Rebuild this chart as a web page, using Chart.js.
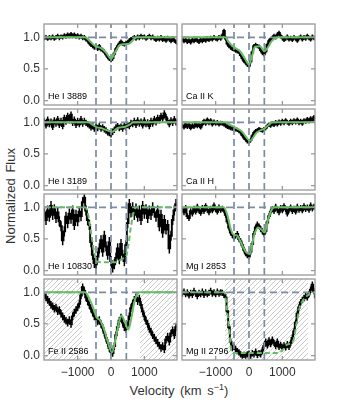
<!DOCTYPE html>
<html lang="en">
<head>
  <meta charset="UTF-8">
  <title>Velocity profiles</title>
  <script src="https://cdn.jsdelivr.net/npm/chart.js"></script>
  <style>
    body { margin: 0; background: #fff; width: 338px; height: 405px; position: relative; overflow: hidden; font-family: "Liberation Sans", Arial, sans-serif; color: #333; }
    canvas { position: absolute; }
    .title { position: absolute; font-size: 13px; white-space: nowrap; word-spacing: 2px; }
  </style>
</head>
<body>
  <div class="title" style="left:10px;top:196px;transform:translate(-50%,-50%) rotate(-90deg)">Normalized Flux</div>
  <div class="title" style="left:179px;top:390px;transform:translate(-50%,-50%)">Velocity (km s<sup style="font-size:9px">&minus;1</sup>)</div>
  <script>
    // velocity grid (km/s) shared by all observed spectra
    const velocity = [
      -2000,-1950,-1900,-1850,-1800,-1750,-1700,-1650,-1600,-1550,
      -1500,-1450,-1400,-1350,-1300,-1250,-1200,-1150,-1100,-1050,
      -1000,-950,-900,-850,-800,-750,-700,-650,-600,-550,
      -500,-450,-400,-350,-300,-250,-200,-150,-100,-50,
      0,50,100,150,200,250,300,350,400,450,
      500,550,600,650,700,750,800,850,900,950,
      1000,1050,1100,1150,1200,1250,1300,1350,1400,1450,
      1500,1550,1600,1650,1700,1750,1800,1850,1900,1950,
      2000
    ];

    const fluxHeI3889 = [
      0.99,1.00,0.98,1.00,0.99,1.01,0.98,1.00,1.02,0.99,
      1.01,1.00,1.03,1.01,1.04,1.02,1.05,1.02,1.04,1.01,
      1.03,1.00,1.02,0.99,1.00,0.97,0.95,0.91,0.88,0.86,
      0.84,0.85,0.82,0.86,0.81,0.80,0.77,0.73,0.69,0.66,
      0.64,0.67,0.74,0.81,0.86,0.90,0.93,0.90,0.89,0.91,
      0.92,0.95,0.97,0.98,1.00,0.98,1.01,0.99,1.02,1.00,
      1.01,0.98,1.00,1.02,0.99,1.01,0.98,0.96,0.99,0.97,
      1.00,0.96,0.98,0.95,0.99,0.97,0.94,0.98,0.95,0.93,
      0.90
    ];
    const fluxCaIIK = [
      0.97,0.94,0.96,0.93,0.95,0.92,0.96,0.94,0.97,0.95,
      0.93,0.96,0.94,0.97,0.95,0.98,0.96,0.99,0.97,1.00,
      0.98,0.97,1.00,0.98,1.03,1.10,0.98,0.90,0.86,0.84,
      0.82,0.81,0.79,0.78,0.77,0.72,0.67,0.63,0.60,0.57,
      0.55,0.62,0.76,0.86,0.88,0.86,0.85,0.80,0.76,0.73,
      0.78,0.88,0.94,0.97,0.99,1.02,1.00,1.04,1.07,1.02,
      0.99,0.96,0.98,1.01,0.97,0.99,0.96,1.00,0.98,0.95,
      0.99,1.01,0.97,1.00,0.98,1.02,0.99,0.97,1.01,0.99,
      1.00
    ];
    const fluxHeI3189 = [
      1.02,0.95,1.04,0.97,1.01,0.93,1.03,0.98,1.05,0.96,
      1.02,0.94,1.07,1.01,1.10,1.03,1.12,0.99,1.04,0.96,
      1.02,0.97,1.05,0.98,1.02,0.99,0.97,0.95,0.92,0.94,
      0.90,0.93,0.91,0.94,0.90,0.92,0.89,0.87,0.84,0.83,
      0.81,0.85,0.88,0.92,0.94,0.91,0.93,0.90,0.95,0.92,
      0.96,0.94,0.99,0.97,1.02,0.96,1.03,0.98,1.01,0.95,
      1.03,0.97,1.00,0.94,1.02,0.98,1.05,1.00,1.07,1.03,
      1.10,1.06,1.14,1.08,1.02,0.97,1.03,0.99,1.05,1.00,
      1.02
    ];
    const fluxCaIIH = [
      0.95,0.92,0.97,0.93,0.96,0.91,0.95,0.93,0.98,0.94,
      0.96,0.92,0.97,1.02,0.98,1.04,0.99,1.03,0.97,1.01,
      0.98,1.00,0.97,0.99,0.98,0.97,0.95,0.93,0.92,0.91,
      0.90,0.91,0.89,0.88,0.86,0.84,0.80,0.76,0.73,0.70,
      0.69,0.72,0.78,0.83,0.86,0.87,0.89,0.88,0.87,0.89,
      0.91,0.94,0.96,0.95,0.98,0.96,1.00,0.97,1.01,0.98,
      1.02,0.99,1.03,1.00,0.98,1.02,0.99,1.03,1.00,1.04,
      0.99,1.02,0.98,1.03,1.01,1.05,1.02,1.06,1.03,1.08,
      1.04
    ];
    const fluxHeI10830 = [
      0.92,0.80,0.95,0.85,1.02,0.88,0.97,0.83,0.92,0.78,
      0.70,0.48,0.62,0.85,0.75,0.90,0.82,0.95,0.72,0.88,
      0.78,0.93,0.86,1.08,1.15,0.95,0.80,0.72,0.45,0.25,
      0.12,0.10,0.22,0.35,0.48,0.30,0.55,0.38,0.25,0.45,
      0.15,0.05,0.10,0.20,0.35,0.18,0.42,0.25,0.15,0.40,
      0.75,1.05,0.92,1.00,0.88,0.98,0.85,0.95,0.80,1.02,
      0.90,0.97,0.83,0.95,0.88,1.00,0.92,0.85,0.95,0.70,
      0.88,0.60,0.80,0.65,0.72,0.35,0.55,0.80,0.95,1.05,
      1.00
    ];
    const fluxMgI2853 = [
      0.97,0.92,0.99,0.86,0.83,0.94,0.90,0.98,0.93,1.01,
      0.95,0.91,0.99,0.94,1.02,0.96,0.92,0.98,0.95,1.03,
      0.97,0.93,1.00,0.96,0.98,0.95,0.88,0.78,0.68,0.60,
      0.56,0.52,0.55,0.58,0.50,0.46,0.40,0.33,0.27,0.24,
      0.22,0.30,0.42,0.58,0.68,0.73,0.70,0.66,0.62,0.58,
      0.63,0.76,0.86,0.93,0.97,0.94,1.01,0.96,0.92,0.99,
      0.95,1.02,0.97,0.90,0.96,1.00,0.94,0.98,0.93,1.01,
      0.96,0.99,0.95,1.02,0.97,1.00,0.96,1.03,0.98,1.01,
      0.99
    ];
    const fluxFeII2586 = [
      0.95,0.92,0.88,0.85,0.80,0.78,0.74,0.76,0.70,0.72,
      0.66,0.62,0.58,0.55,0.52,0.56,0.50,0.62,0.68,0.72,
      0.76,0.82,0.95,1.08,1.02,0.92,0.86,0.80,0.74,0.68,
      0.62,0.58,0.54,0.56,0.50,0.44,0.36,0.28,0.20,0.12,
      0.06,0.04,0.15,0.32,0.45,0.55,0.60,0.52,0.45,0.42,
      0.48,0.62,0.75,0.82,0.88,0.92,0.86,0.90,0.80,0.70,
      0.62,0.55,0.50,0.42,0.38,0.32,0.28,0.24,0.20,0.16,
      0.12,0.15,0.10,0.25,0.30,0.22,0.35,0.40,0.32,0.45,
      0.50
    ];
    const fluxMgII2796 = [
      0.98,1.01,0.97,1.00,0.95,0.99,0.96,1.02,0.98,0.94,
      0.99,0.97,1.01,0.96,1.00,0.97,0.99,1.02,0.98,1.00,
      0.97,1.01,0.98,1.00,0.99,0.96,0.92,0.70,0.45,0.22,
      0.12,0.14,0.10,0.07,0.05,0.02,0.00,0.01,0.00,0.02,
      0.03,0.00,0.04,0.02,0.06,0.01,0.04,0.02,0.08,0.15,
      0.22,0.16,0.24,0.18,0.25,0.20,0.15,0.22,0.14,0.17,
      0.12,0.16,0.13,0.18,0.14,0.20,0.28,0.38,0.52,0.66,
      0.76,0.84,0.88,0.91,0.94,0.92,0.97,1.04,1.12,1.02,
      0.92
    ];

    // 1-sigma flux errors per spectrum
    const fluxErrors = [0.035, 0.035, 0.05, 0.035, 0.08, 0.045, 0.06, 0.05];

    // model fits (velocity, flux)
    const modelVHeI3889 = [-2010,-780,-650,-500,-430,-300,-150,0,120,270,400,550,650,770,1980];
    const modelHeI3889  = [1,1,0.95,0.87,0.85,0.83,0.76,0.66,0.76,0.88,0.89,0.90,0.95,1,1];
    const modelVCaIIK = [-2010,-720,-600,-470,-270,-120,0,100,180,330,460,580,680,880,1980];
    const modelCaIIK  = [1,1,0.92,0.85,0.78,0.66,0.57,0.72,0.85,0.86,0.78,0.85,0.94,1,1];
    const modelVHeI3189 = [-2010,-670,-550,-430,-300,-150,40,200,430,550,670,1980];
    const modelHeI3189  = [1,1,0.96,0.92,0.91,0.88,0.85,0.91,0.93,0.96,1,1];
    const modelVCaIIH = [-2010,-700,-570,-420,-220,30,230,460,600,700,1980];
    const modelCaIIH  = [1,1,0.96,0.92,0.86,0.71,0.84,0.90,0.96,1,1];
    const modelVHeI10830 = [-2010,-780,-700,-600,-500,-430,-300,0,200,350,450,520,600,680,760,1980];
    const modelHeI10830  = [1,1,0.92,0.60,0.28,0.15,0.13,0.13,0.14,0.19,0.22,0.40,0.70,0.92,1,1];
    const modelVMgI2853 = [-2010,-760,-650,-550,-450,-370,-250,-100,20,150,270,370,470,560,650,760,1980];
    const modelMgI2853  = [1,1,0.88,0.66,0.56,0.56,0.45,0.30,0.26,0.55,0.68,0.65,0.60,0.78,0.93,1,1];
    const modelVFeII2586 = [-2010,-780,-650,-500,-430,-330,-200,-100,30,150,250,320,420,520,620,700,800,870,1980];
    const modelFeII2586  = [1,1,0.90,0.70,0.60,0.56,0.40,0.22,0.05,0.30,0.55,0.63,0.52,0.41,0.62,0.85,0.98,1,1];
    const modelVMgII2796 = [-2010,-730,-680,-600,-520,-400,800,1000,1130,1330,1430,1530,1630,1780,1980];
    const modelMgII2796  = [1,1,0.80,0.45,0.06,0.04,0.04,0.08,0.17,0.24,0.52,0.78,0.88,0.96,1];

    // masked (blended) velocity ranges
    const maskFeII2586 = [[-2010, -870], [870, 1980]];
    const maskMgII2796 = [[-720, 1770]];

    const componentVelocities = [-450, 0, 460];
    const continuumLevel = 1;

    const xTickValues = [-1000, 0, 1000];
    const xTickLabels = ['\u22121000', '0', '1000'];
    const yTickValues = [0, 0.5, 1];
    const yTickLabels = ['0.0', '0.5', '1.0'];

    const panels = [
      { label: 'He I 3889',  flux: fluxHeI3889,  mv: modelVHeI3889,  m: modelHeI3889,  dashed: false, mask: [], col: 0, row: 0 },
      { label: 'Ca II K',    flux: fluxCaIIK,    mv: modelVCaIIK,    m: modelCaIIK,    dashed: false, mask: [], col: 1, row: 0 },
      { label: 'He I 3189',  flux: fluxHeI3189,  mv: modelVHeI3189,  m: modelHeI3189,  dashed: false, mask: [], col: 0, row: 1 },
      { label: 'Ca II H',    flux: fluxCaIIH,    mv: modelVCaIIH,    m: modelCaIIH,    dashed: false, mask: [], col: 1, row: 1 },
      { label: 'He I 10830', flux: fluxHeI10830, mv: modelVHeI10830, m: modelHeI10830, dashed: true,  mask: [], col: 0, row: 2 },
      { label: 'Mg I 2853',  flux: fluxMgI2853,  mv: modelVMgI2853,  m: modelMgI2853,  dashed: false, mask: [], col: 1, row: 2 },
      { label: 'Fe II 2586', flux: fluxFeII2586, mv: modelVFeII2586, m: modelFeII2586, dashed: false, mask: maskFeII2586, col: 0, row: 3 },
      { label: 'Mg II 2796', flux: fluxMgII2796, mv: modelVMgII2796, m: modelMgII2796, dashed: true,  mask: maskMgII2796, col: 1, row: 3 }
    ];

    const colLeft = [44, 182];
    const rowTop = [24, 109, 194, 279];
    const panelW = 133, panelH = 81;
    const xMin = -2010, xMax = 1980, yMin = -0.07, yMax = 1.21;
    const refColor = '#7d8ca3';
    const frameColor = '#999';

    function decor(p, err) {
      return {
        id: 'decor',
        beforeDatasetsDraw(chart) {
          const { ctx, chartArea: a, scales: { x } } = chart;
          const h = a.bottom - a.top;
          ctx.save();
          ctx.strokeStyle = '#b4b4b4';
          ctx.lineWidth = 0.7;
          p.mask.forEach(([v1, v2]) => {
            const x1 = x.getPixelForValue(v1), x2 = x.getPixelForValue(v2);
            ctx.save();
            ctx.beginPath();
            ctx.rect(x1, a.top, x2 - x1, h);
            ctx.clip();
            ctx.beginPath();
            for (let s = a.left - h; s < a.right; s += 5) {
              ctx.moveTo(s, a.bottom);
              ctx.lineTo(s + h, a.top);
            }
            ctx.stroke();
            ctx.restore();
          });
          ctx.restore();
        },
        beforeDatasetDraw(chart, args) {
          if (args.index !== 0) return;
          const { ctx, chartArea: a, scales: { x, y } } = chart;
          ctx.save();
          ctx.beginPath();
          ctx.rect(a.left, a.top, a.width, a.height);
          ctx.clip();
          ctx.strokeStyle = '#000';
          ctx.lineWidth = 1.5;
          ctx.beginPath();
          velocity.forEach((v, i) => {
            const px = x.getPixelForValue(v);
            ctx.moveTo(px, y.getPixelForValue(p.flux[i] - err));
            ctx.lineTo(px, y.getPixelForValue(p.flux[i] + err));
          });
          ctx.stroke();
          ctx.restore();
        },
        afterDraw(chart) {
          const { ctx, chartArea: a, scales: { x, y } } = chart;
          ctx.save();
          ctx.strokeStyle = frameColor;
          ctx.lineWidth = 1.3;
          ctx.strokeRect(a.left, a.top, a.width, a.height);
          ctx.beginPath();
          yTickValues.forEach(v => {
            const py = y.getPixelForValue(v);
            ctx.moveTo(a.left, py); ctx.lineTo(a.left + 4, py);
            ctx.moveTo(a.right, py); ctx.lineTo(a.right - 4, py);
          });
          xTickValues.forEach(v => {
            const px = x.getPixelForValue(v);
            ctx.moveTo(px, a.bottom); ctx.lineTo(px, a.bottom - 4);
            ctx.moveTo(px, a.top); ctx.lineTo(px, a.top + 4);
          });
          ctx.stroke();

          ctx.fillStyle = '#333';
          ctx.font = '12px "Liberation Sans", Arial, sans-serif';
          if (p.col === 0) {
            ctx.textAlign = 'right';
            ctx.textBaseline = 'middle';
            yTickValues.forEach((v, i) => ctx.fillText(yTickLabels[i], a.left - 4, y.getPixelForValue(v)));
          }
          if (p.row === 3) {
            ctx.textAlign = 'center';
            ctx.textBaseline = 'middle';
            xTickValues.forEach((v, i) => ctx.fillText(xTickLabels[i], x.getPixelForValue(v), a.bottom + 13));
          }
          ctx.fillStyle = '#000';
          ctx.font = '9px "Liberation Sans", Arial, sans-serif';
          ctx.textAlign = 'left';
          ctx.textBaseline = 'alphabetic';
          ctx.fillText(p.label, a.left + 4, a.bottom - 6);
          ctx.restore();
        }
      };
    }

    panels.forEach((p, k) => {
      const padL = p.col === 0 ? 44 : 4, padR = 4, padT = 4;
      const padB = p.row === 3 ? 24 : 4;
      const w = panelW + padL + padR, h = panelH + padT + padB;
      const canvas = document.createElement('canvas');
      canvas.width = w;
      canvas.height = h;
      canvas.style.left = (colLeft[p.col] - padL) + 'px';
      canvas.style.top = (rowTop[p.row] - padT) + 'px';
      canvas.style.width = w + 'px';
      canvas.style.height = h + 'px';
      document.body.appendChild(canvas);

      const refSets = [
        { data: [{ x: xMin, y: continuumLevel }, { x: xMax, y: continuumLevel }] },
        ...componentVelocities.map(v => ({ data: [{ x: v, y: yMin }, { x: v, y: yMax }] }))
      ].map(d => ({ ...d, borderColor: refColor, borderWidth: 1.7, borderDash: [7, 4], pointRadius: 0, order: 2 }));

      new Chart(canvas.getContext('2d'), {
        type: 'line',
        data: {
          datasets: [
            {
              data: velocity.map((v, i) => ({ x: v, y: p.flux[i] })),
              borderColor: '#000',
              borderWidth: 1.9,
              stepped: 'middle',
              pointRadius: 0,
              order: 3
            },
            ...refSets,
            {
              data: p.mv.map((v, i) => ({ x: v, y: p.m[i] })),
              borderColor: '#66bd63',
              borderWidth: 2,
              borderDash: p.dashed ? [5, 3] : [],
              cubicInterpolationMode: 'monotone',
              pointRadius: 0,
              order: 1
            }
          ]
        },
        options: {
          responsive: false,
          animation: false,
          devicePixelRatio: 1,
          layout: { padding: { left: padL, right: padR, top: padT, bottom: padB } },
          plugins: { legend: { display: false }, tooltip: { enabled: false } },
          scales: {
            x: { type: 'linear', min: xMin, max: xMax, display: false },
            y: { type: 'linear', min: yMin, max: yMax, display: false }
          }
        },
        plugins: [decor(p, fluxErrors[k])]
      });
    });
  </script>
</body>
</html>
